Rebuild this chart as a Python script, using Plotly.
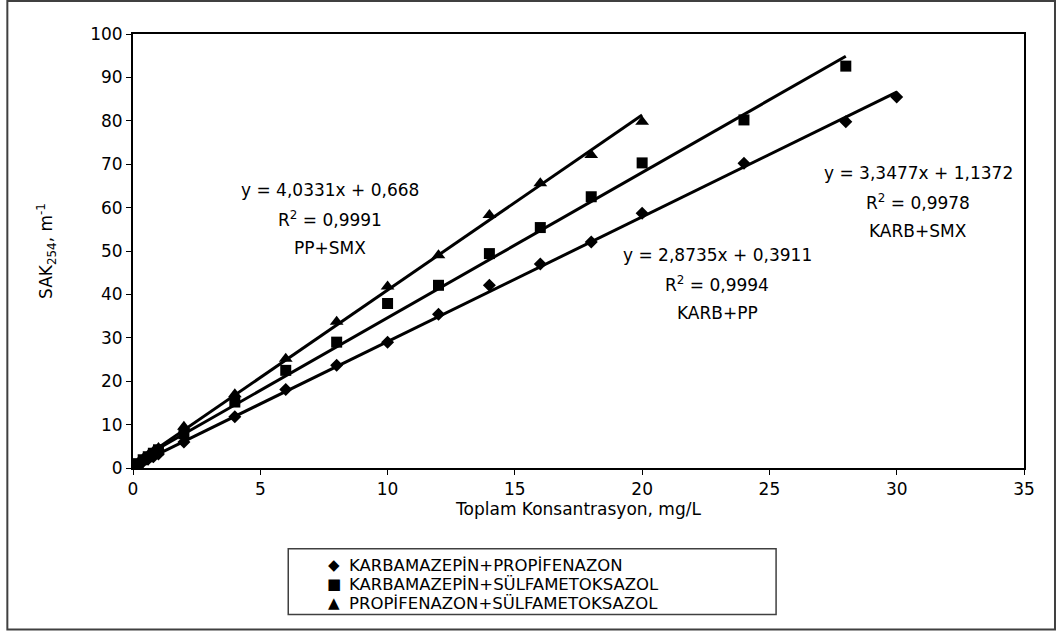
import plotly.graph_objects as go

# ---- data ----
x_kp = [0, 0.2, 0.4, 0.6, 0.8, 1, 2, 4, 6, 8, 10, 12, 14, 16, 18, 20, 24, 28, 30]
y_kp = [0, 0.8, 1.5, 2.1, 2.6, 3.2, 6.0, 11.8, 18.1, 23.7, 29.0, 35.4, 42.1, 47.0, 52.1, 58.7, 70.2, 79.8, 85.5]

x_ks = [0, 0.2, 0.4, 0.6, 0.8, 1, 2, 4, 6, 8, 10, 12, 14, 16, 18, 20, 24, 28]
y_ks = [0, 1.0, 1.9, 2.6, 3.4, 4.2, 7.9, 15.2, 22.5, 29.0, 37.9, 42.1, 49.4, 55.4, 62.5, 70.3, 80.2, 92.6]

x_ps = [0, 0.2, 0.4, 0.6, 0.8, 1, 2, 4, 6, 8, 10, 12, 14, 16, 18, 20]
y_ps = [0, 1.2, 2.2, 3.0, 3.8, 4.6, 9.5, 17.0, 25.2, 33.7, 41.8, 49.0, 58.3, 65.6, 72.1, 79.8]

names = ["KARBAMAZEPİN+PROPİFENAZON", "KARBAMAZEPİN+SÜLFAMETOKSAZOL", "PROPİFENAZON+SÜLFAMETOKSAZOL"]
symbols = ["diamond", "square", "triangle-up"]
legend_glyphs = ["◆", "■", "▲"]
sizes = [10, 11, 12]

# trendline coefficients (slope, intercept) as printed on the chart
slopes = [2.8735, 3.3477, 4.0331]
intercepts = [0.3911, 1.1372, 0.668]
eq_text = [["y = 2,8735x + 0,3911", "R<sup>2</sup> = 0,9994", "KARB+PP"],
           ["y = 3,3477x + 1,1372", "R<sup>2</sup> = 0,9978", "KARB+SMX"],
           ["y = 4,0331x + 0,668", "R<sup>2</sup> = 0,9991", "PP+SMX"]]

xs = [x_kp, x_ks, x_ps]
ys = [y_kp, y_ks, y_ps]

FONT = "DejaVu Sans, Arial, sans-serif"

fig = go.Figure()

for i in range(3):
    x0, x1 = min(xs[i]), max(xs[i])
    fig.add_trace(go.Scatter(
        x=[x0, x1], y=[slopes[i] * x0 + intercepts[i], slopes[i] * x1 + intercepts[i]],
        mode="lines", line=dict(color="black", width=3), showlegend=False, hoverinfo="skip"))

for i in range(3):
    fig.add_trace(go.Scatter(
        x=xs[i], y=ys[i], mode="markers", name=names[i], showlegend=False,
        marker=dict(symbol=symbols[i], size=sizes[i], color="black", line=dict(width=0))))

# layout geometry (pixels)
W, H = 1059, 634
L, R, T, B = 132.7, 1024, 34, 467.7
pw, ph = R - L, B - T

def px(xp):
    return (xp - L) / pw

def py(yp):
    return (B - yp) / ph

annos = []
centers = [(717, 255), (918, 173), (330, 190)]
for i in range(3):
    cx, cy = centers[i]
    for j, t in enumerate(eq_text[i]):
        annos.append(dict(x=px(cx), y=py(cy + 29 * j), xref="paper", yref="paper",
                          text=t, showarrow=False, xanchor="center", yanchor="middle",
                          font=dict(family=FONT, size=17, color="black")))

# legend (drawn as text, Excel-style box)
leg_y = [565, 584, 603]
for i in range(3):
    annos.append(dict(x=px(334), y=py(leg_y[i]), xref="paper", yref="paper",
                      text=legend_glyphs[i], showarrow=False, xanchor="center", yanchor="middle",
                      font=dict(family=FONT, size=15, color="black")))
    annos.append(dict(x=px(347), y=py(leg_y[i]), xref="paper", yref="paper",
                      text=names[i], showarrow=False, xanchor="left", yanchor="middle",
                      font=dict(family=FONT, size=16.5, color="black")))

shapes = [
    # outer border
    dict(type="rect", xref="paper", yref="paper", x0=px(7), x1=px(1055), y0=py(629), y1=py(1),
         line=dict(color="#404040", width=2), layer="below"),
    # legend box
    dict(type="rect", xref="paper", yref="paper", x0=px(288), x1=px(776), y0=py(614), y1=py(548.5),
         line=dict(color="#404040", width=1.5)),
]

fig.update_layout(
    width=W, height=H,
    margin=dict(l=L, r=W - R, t=T, b=H - B),
    paper_bgcolor="white", plot_bgcolor="white",
    font=dict(family=FONT, size=17, color="black"),
    showlegend=False,
    xaxis=dict(range=[0, 35], dtick=5, tick0=0, showgrid=False, zeroline=False,
               showline=True, linecolor="black", linewidth=2, mirror=True,
               ticks="outside", ticklen=5, tickwidth=1, tickcolor="black",
               tickfont=dict(family=FONT, size=17),
               title=dict(text="Toplam Konsantrasyon, mg/L", standoff=2,
                          font=dict(family=FONT, size=17))),
    yaxis=dict(range=[0, 100], dtick=10, tick0=0, showgrid=False, zeroline=False,
               showline=True, linecolor="black", linewidth=2, mirror=True,
               ticks="outside", ticklen=5, tickwidth=1, tickcolor="black",
               tickfont=dict(family=FONT, size=17),
               title=dict(text="SAK<sub>254</sub>, m<sup>-1</sup>", standoff=33,
                          font=dict(family=FONT, size=17))),
    annotations=annos,
    shapes=shapes,
)

fig.write_html("out.html")
